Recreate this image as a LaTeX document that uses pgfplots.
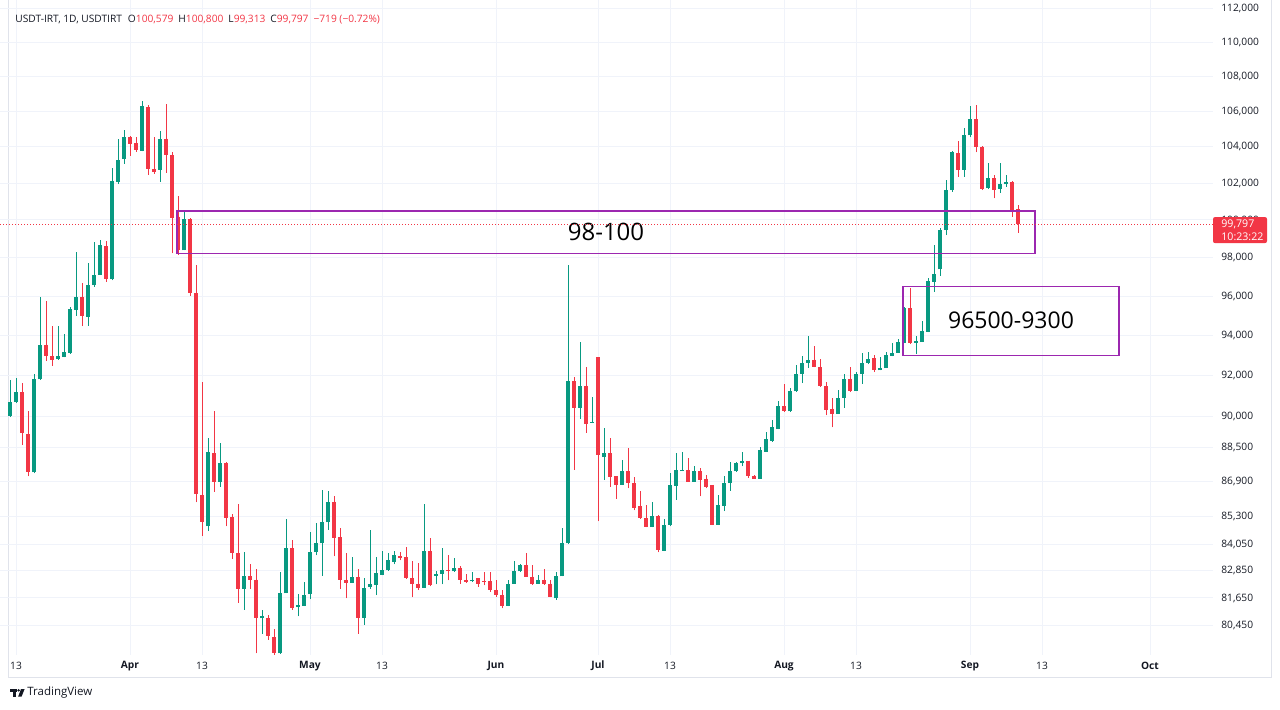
\documentclass[border=0pt]{standalone}
\usepackage{fontspec}
\setmainfont{Open Sans}
\usepackage{pgfplots}
\usepackage{pgfplotstable}
\pgfplotsset{compat=1.18}
\definecolor{tvgreen}{HTML}{089981}
\definecolor{tvred}{HTML}{F23645}
\definecolor{tvpurple}{HTML}{9C27B0}
\definecolor{tvtext}{HTML}{131722}
\definecolor{tvgrid}{HTML}{F0F3FA}
\definecolor{tvborder}{HTML}{E0E3EB}

\pgfplotstableread{
i o h l c
-1 90000 91756 89966 90697
0 90697 91888 90650 91185
1 91185 91644 88641 89189
2 89142 90259 87150 87337
3 87337 92050 87300 91839
4 91805 95933 91800 93535
5 93535 95759 92715 92965
6 92950 94462 92485 92785
7 92800 94460 92780 92965
8 92915 94050 92900 93185
9 93135 95420 93085 95318
10 95282 98324 94990 95964
11 95964 96682 94462 94990
12 94940 97728 94497 96564
13 96564 98826 96477 97113
14 97113 98918 97100 98648
15 98610 98880 96734 96872
16 96872 102817 96820 102128
17 102072 104457 101945 103278
18 103333 104931 103055 104554
19 104554 104600 103502 104171
20 104200 104530 103732 103829
21 103772 106611 103750 106333
22 106261 106389 102445 102750
23 102778 104554 102500 102630
24 102722 104914 102072 104457
25 104457 106428 102572 103543
26 103543 103697 98232 100124
27 100178 101314 98146 98378
28 98378 100540 98378 100054
29 100054 100124 96015 96139
30 96139 97620 85944 86318
31 86270 91673 84407 85032
32 84854 88955 84630 88326
33 88250 90280 86430 86914
34 86914 88718 86672 87780
35 87780 87850 84854 85224
36 85270 85431 83394 83634
37 83634 85897 81448 82066
38 82066 83677 81135 82607
39 82607 83137 82066 82453
40 82453 82923 79276 80780
41 80763 81135 80106 80850
42 80780 80922 79848 79990
43 79962 80308 79200 79276
44 79276 82777 79250 81852
45 81852 85197 81850 83886
46 83857 84215 81135 81233
47 81250 81822 80850 81350
48 81307 82348 81300 81779
49 81822 84600 81594 83694
50 83680 85000 83540 84080
51 84080 86512 82636 85032
52 85032 86464 84706 85980
53 85980 86220 83497 84330
54 84360 84780 82066 82422
55 82450 83634 81637 82310
56 82310 83460 82300 82593
57 82593 82923 80094 80780
58 80780 82537 80493 82110
59 82136 84676 82066 82280
60 82230 83460 81779 82735
61 82680 83739 82650 82880
62 82880 83634 82850 83310
63 83250 83739 83137 83540
64 83510 83710 83310 83400
65 83460 83917 82500 82537
66 82537 83280 81680 82280
67 82280 83208 81993 82110
68 82110 85896 82100 83739
69 83739 84302 82165 82207
70 82640 82850 82250 82710
71 82710 83857 82250 82880
72 82880 83540 82422 82820
73 82820 83414 82800 82993
74 82993 83064 82280 82452
75 82452 82710 82310 82350
76 82380 82780 82350 82452
77 82520 82550 82136 82280
78 82380 82780 82207 82340
79 82380 82780 81920 81993
80 81993 82452 81700 81779
81 81779 81993 81200 81307
82 81307 82422 81300 82280
83 82280 83280 82270 82820
84 82820 83137 82810 83110
85 83110 83634 82590 82593
86 82593 83125 82236 82280
87 82280 82680 82270 82452
88 82452 82923 82236 82280
89 82280 82422 81680 81707
90 81637 82780 81565 82636
91 82607 84780 82600 84080
92 84080 97628 84050 91722
93 91722 91917 87464 90425
94 90425 93665 89892 91500
95 91500 92415 89217 89658
96 89690 90937 89680 89730
97 92915 92930 85077 88137
98 88060 89437 86997 88250
99 88250 88955 86672 87128
100 87150 87150 86110 86755
101 86755 87936 86750 87385
102 87385 88484 86594 86836
103 86850 87128 85576 85673
104 85785 86478 85197 85224
105 85224 85833 84800 84810
106 84810 85945 84800 85300
107 85300 85345 83677 83770
108 83739 85197 83730 84929
109 84929 87323 84854 86755
110 86706 88250 86064 87464
111 87400 88298 87400 87464
112 87464 88016 86900 86914
113 86914 87620 86900 87385
114 87417 87543 86220 86997
115 87045 87235 86594 86645
116 86755 86755 84900 84929
117 84929 86300 84900 85820
118 85785 87190 85543 86836
119 86836 87810 86478 87385
120 87385 87810 87380 87780
121 87780 88279 87620 87890
122 87890 87890 87080 87190
123 87190 87235 87040 87045
124 87045 88560 87040 88406
125 88326 89237 88320 88908
126 88830 89813 88779 89500
127 89391 90732 89380 90488
128 90488 91561 90240 90244
129 90244 91400 90240 91220
130 91220 92535 91210 92085
131 92085 92950 91624 92635
132 92635 93950 92370 92785
133 92785 93450 92400 92415
134 92415 92835 91450 91463
135 91463 91673 90049 90327
136 90376 90888 89472 90132
137 90132 91300 90130 90908
138 90908 92085 90425 91839
139 91839 92415 91185 91234
140 91234 92150 91230 92085
141 92085 93135 91595 92635
142 92635 93170 92550 92835
143 92865 93000 92165 92250
144 92250 92915 92250 92365
145 92365 93150 92360 93000
146 92965 93635 92950 93135
147 93135 93835 93130 93665
148 93635 95435 93630 95370
149 95370 96395 93585 93635
150 93635 93965 93085 93700
151 93665 94720 93660 94205
152 94170 96950 94160 96770
153 96734 98648 96220 97166
154 97383 99550 97062 99460
155 99460 102167 99190 101614
156 101614 103772 101518 103697
157 103640 104303 102350 102722
158 102722 105068 102350 104646
159 104646 106295 104532 105543
160 105543 106389 103697 104017
161 104017 104050 101614 101668
162 101706 103092 101668 102261
163 102261 102445 101173 101614
164 101668 103092 101485 101928
165 101928 102445 101800 102040
166 102040 102110 100178 100516
167 100579 100800 99313 99797
}\candles

\begin{document}
\begin{tikzpicture}[x=0.5pt,y=0.5pt]
\path[use as bounding box] (0,0) rectangle (1280,709);
% frame
\draw[tvborder, line width=0.5pt] (8,709) -- (8,32) -- (1271,32) -- (1271,709);
\begin{axis}[
  at={(0pt,27pt)}, anchor=south west,
  scale only axis, width=606.5pt, height=327.5pt,
  xmin=-2.6667, xmax=199.5,
  ymode=log, ymin=79209, ymax=112542,
  axis line style={draw=none},
  major tick length=0pt,
  xtick={0,19,31,49,61,80,97,109,128,140,159,171,189},
  xticklabels={13,\textbf{Apr},13,\textbf{May},13,\textbf{Jun},\textbf{Jul},13,\textbf{Aug},13,\textbf{Sep},13,\textbf{Oct}},
  ytick={80450,81650,82850,84050,85300,86900,88500,90000,92000,94000,96000,98000,100000,102000,104000,106000,108000,110000,112000},
  yticklabels={{80,450},{81,650},{82,850},{84,050},{85,300},{86,900},{88,500},{90,000},{92,000},{94,000},{96,000},{98,000},{100,000},{102,000},{104,000},{106,000},{108,000},{110,000},{112,000}},
  yticklabel pos=right,
  grid=major, major grid style={draw=tvgrid, line width=0.5pt},
  tick label style={font=\fontsize{5.1}{6}\selectfont, text=tvtext},
  xticklabel style={anchor=center, yshift=-5.5pt},
  yticklabel style={anchor=west, inner sep=0pt, xshift=4pt},
  /pgf/number format/assume math mode=true,
]
\pgfplotstablegetrowsof{\candles}
\pgfmathtruncatemacro{\lastrow}{\pgfplotsretval-1}
\pgfplotsinvokeforeach{0,...,\lastrow}{%
  \pgfplotstablegetelem{#1}{i}\of\candles \edef\ci{\pgfplotsretval}%
  \pgfplotstablegetelem{#1}{o}\of\candles \edef\co{\pgfplotsretval}%
  \pgfplotstablegetelem{#1}{h}\of\candles \edef\ch{\pgfplotsretval}%
  \pgfplotstablegetelem{#1}{l}\of\candles \edef\cl{\pgfplotsretval}%
  \pgfplotstablegetelem{#1}{c}\of\candles \edef\cc{\pgfplotsretval}%
  \ifnum\cc<\co\relax \def\ccol{tvred}\else\def\ccol{tvgreen}\fi
  \edef\tmp{\noexpand\addplot[forget plot, draw=\ccol, line width=0.5pt, mark=none] coordinates {(\ci,\cl) (\ci,\ch)};%
    \noexpand\addplot[forget plot, draw=\ccol, line width=2.1pt, mark=none] coordinates {(\ci,\co) (\ci,\cc)};}%
  \tmp
}
% zones
\draw[tvpurple, line width=0.8pt] (axis cs:26.83,98216) rectangle (axis cs:169.83,100486);
\node[font=\fontsize{12}{14}\selectfont, text=black, inner sep=0] at (axis cs:98.33,99378) {98-100};
\draw[tvpurple, line width=0.8pt] (axis cs:147.83,93000) rectangle (axis cs:183.83,96500);
\node[font=\fontsize{11.5}{13.5}\selectfont, text=black, inner sep=0] at (axis cs:165.83,94746) {96500-9300};
\coordinate (pl) at (axis cs:0,99797);
\end{axis}
% last price line and label
\path (pl); \pgfgetlastxy{\px}{\py}
\draw[tvred, line width=0.4pt, dash pattern=on 0.5pt off 1pt] (0,\py) -- (1213,\py);
\fill[tvred, rounded corners=1pt] (1213,\py+3.5pt) rectangle (1267,\py-9.5pt);
\node[anchor=west, inner sep=0, text=white, font=\fontsize{5.3}{6.5}\selectfont] at (1221,\py) {99,797};
\node[anchor=west, inner sep=0, text=white, font=\fontsize{5.3}{6.5}\selectfont] at (1221,\py-6.5pt) {10:23:22};
% header
\node[anchor=west, inner sep=0, text=tvtext, font=\fontsize{5.1}{6}\selectfont] at (15,689)
  {USDT-IRT, 1D, USDTIRT\hspace{3pt}O\textcolor{tvred}{100,579}\hspace{2.5pt}H\textcolor{tvred}{100,800}\hspace{2.5pt}L\textcolor{tvred}{99,313}\hspace{2.5pt}C\textcolor{tvred}{99,797}\hspace{2.5pt}\textcolor{tvred}{−719 (−0.72\%)}};
% logo
\fill[tvtext] (10,20) rectangle (17,17.3);
\fill[tvtext] (13.3,17.3) rectangle (16,12.5);
\fill[tvtext] (18.6,18.7) circle (0.7pt);
\fill[tvtext] (21,20) -- (24.6,20) -- (21.6,12.5) -- (18.2,12.5) -- cycle;
\node[anchor=west, inner sep=0, text=tvtext, font=\fontsize{5.75}{6.5}\selectfont] at (27,16.5) {TradingView};
\end{tikzpicture}
\end{document}
